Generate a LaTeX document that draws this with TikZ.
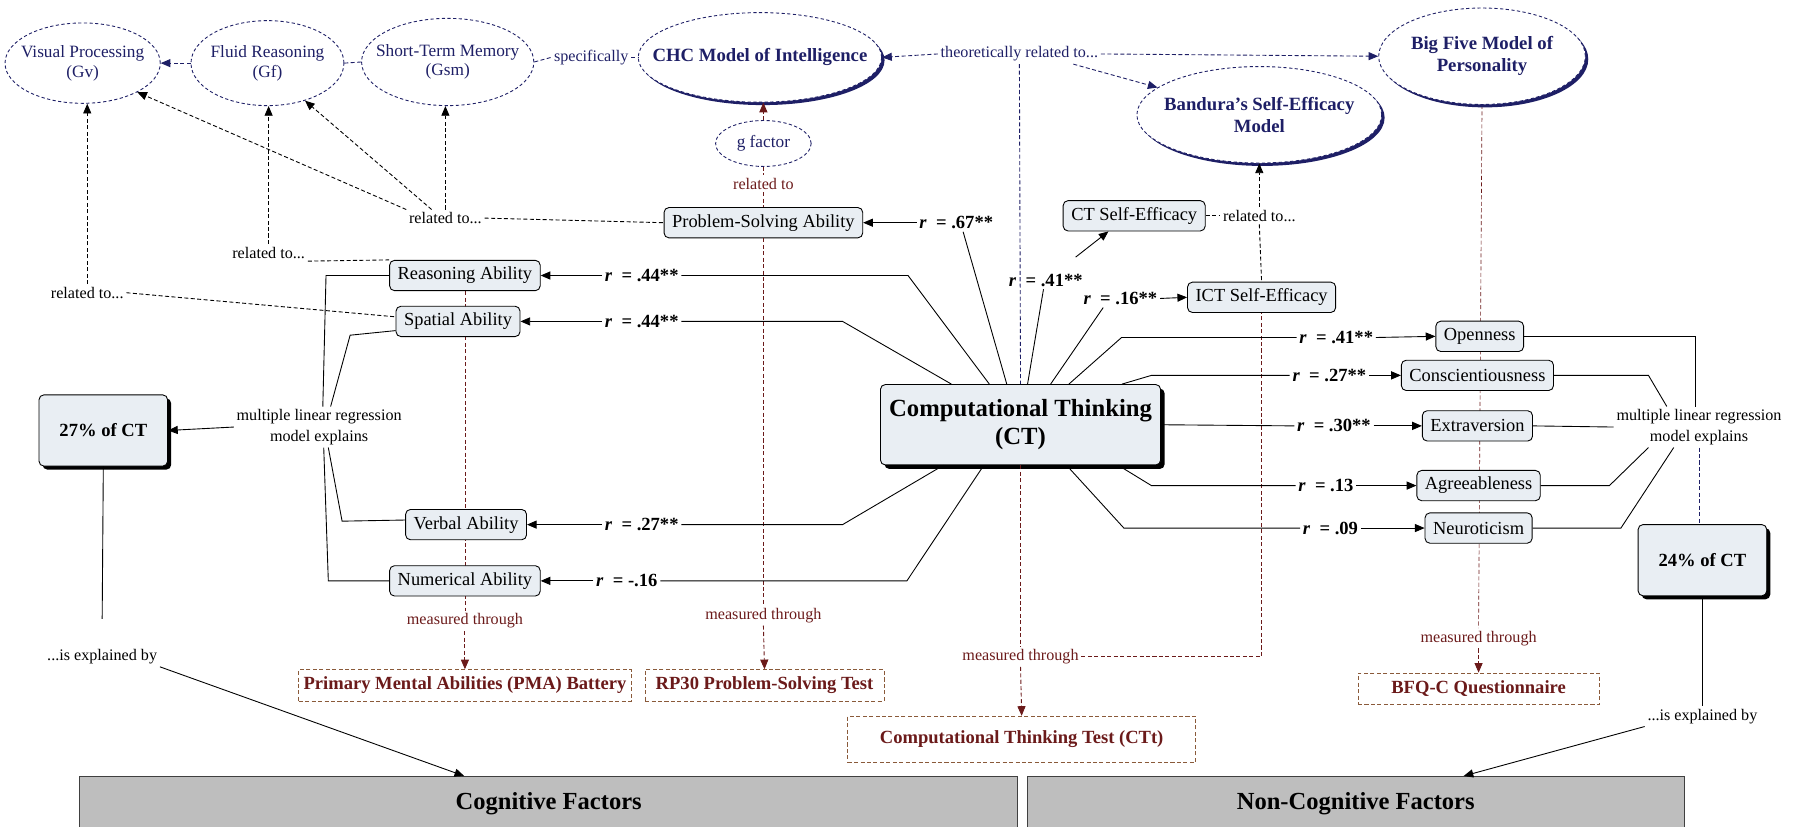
\documentclass[tikz,border=0pt]{standalone}
\usepackage{fontspec}
\setmainfont{Liberation Serif}
\usetikzlibrary{arrows.meta,calc,shapes.geometric,shadows,backgrounds}
\definecolor{navy}{HTML}{1E1F66}
\definecolor{maroon}{HTML}{6B1A1A}
\definecolor{testrim}{HTML}{8A5A3A}
\definecolor{boxfill}{HTML}{E9EEF3}
\definecolor{barfill}{HTML}{BEBEBE}

\begin{document}
\begin{tikzpicture}[x=0.025cm,y=-0.025cm,line width=0.55pt,
			construct/.style={ellipse,draw=navy,dash pattern=on 2pt off 1.5pt,fill=white,inner sep=0pt},
			ctext/.style={align=center,inner sep=0pt,text=navy,font=\fontsize{10.7}{12.1}\selectfont},
			theory/.style={ellipse,draw=navy,dash pattern=on 2pt off 1.5pt,fill=white,inner sep=0pt,drop shadow={shadow xshift=1.8pt,shadow yshift=-1.8pt,fill=navy,opacity=1}},
			ttext/.style={align=center,inner sep=0pt,text=navy,font=\bfseries\fontsize{11.6}{13.4}\selectfont},
			ability/.style={draw,rounded corners=3pt,fill=boxfill,inner xsep=5pt,inner ysep=0pt,minimum height=0.66cm,font=\fontsize{11.4}{13}\selectfont},
			core/.style={ability,align=center,minimum width=6.1cm,minimum height=1.75cm,font=\bfseries\fontsize{15.3}{17.5}\selectfont,drop shadow={shadow xshift=2.5pt,shadow yshift=-2.5pt,fill=black,opacity=1}},
			share/.style={ability,minimum width=2.8cm,minimum height=1.55cm,font=\bfseries\fontsize{11.5}{13}\selectfont,drop shadow={shadow xshift=2.2pt,shadow yshift=-2.2pt,fill=black,opacity=1}},
			instrument/.style={draw=testrim,dash pattern=on 2.5pt off 1.5pt,fill=white,text=maroon,inner xsep=3pt,inner ysep=0pt,minimum height=0.68cm,font=\bfseries\fontsize{11.5}{13}\selectfont},
			note/.style={inner sep=1.5pt,align=center,font=\fontsize{10}{12.8}\selectfont},
			mnote/.style={note,text=maroon},
			coef/.style={inner sep=1.5pt,font=\bfseries\fontsize{11.5}{13}\selectfont},
			factor/.style={draw=black!75,fill=barfill,anchor=north,minimum height=1.2cm,font=\bfseries\fontsize{15.2}{17}\selectfont},
			ndash/.style={draw=navy,dash pattern=on 2.5pt off 1.5pt},
			mdash/.style={draw=maroon,dash pattern=on 2.5pt off 1.5pt},
			kdash/.style={draw=black,dash pattern=on 2.5pt off 1.5pt},
			arr/.style={-{Triangle[length=6pt,width=5pt]}}
		]
		\useasboundingbox (0,0) rectangle (1568,720);
		% theories and constructs
		\node[construct,minimum width=3.38cm,minimum height=1.75cm,label={[ctext]center:Visual Processing\\(Gv)}] (vis) at (72,55) {};
		\node[construct,minimum width=3.33cm,minimum height=1.85cm,label={[ctext]center:Fluid Reasoning\\(Gf)}] (fluid) at (233,55) {};
		\node[construct,minimum width=3.75cm,minimum height=1.9cm,label={[ctext]center:Short-Term Memory\\(Gsm)}] (stm) at (390,54) {};
		\node[note,text=navy] (spec) at (515,50) {specifically};
		\node[theory,minimum width=5.3cm,minimum height=1.95cm,label={[ttext]center:CHC Model of Intelligence}] (chc) at (662,50) {};
		\node[note,text=navy] (theo) at (888,47) {theoretically related to...};
		\node[theory,minimum width=4.5cm,minimum height=2.1cm,label={[ttext]center:Big Five Model of\\Personality}] (big5) at (1291,49) {};
		\node[theory,minimum width=5.33cm,minimum height=2.1cm,label={[ttext]center:Bandura's Self-Efficacy\\Model}] (bandura) at (1097,100) {};
		\node[construct,minimum width=2.08cm,minimum height=1.0cm,label={[ctext]center:g factor}] (gfac) at (665,125) {};
		\node[mnote] (relg) at (665,160) {related to};
		% cognitive side
		\node[ability] (psa)     at (665,194) {Problem-Solving Ability};
		\node[ability] (reason)  at (405,240) {Reasoning Ability};
		\node[ability] (spatial) at (399,280) {Spatial Ability};
		\node[ability] (verbal)  at (406,457) {Verbal Ability};
		\node[ability] (numer)   at (405,506) {Numerical Ability};
		\node[coef] (rpsa)     at (833,194) {\textit{r}\enspace= .67**};
		\node[coef] (rreason)  at (559,240) {\textit{r}\enspace= .44**};
		\node[coef] (rspatial) at (559,280) {\textit{r}\enspace= .44**};
		\node[coef] (rverbal)  at (559,457) {\textit{r}\enspace= .27**};
		\node[coef] (rnumer)   at (546,506) {\textit{r}\enspace= -.16};
		\node[note] (rela) at (76,255)  {related to...};
		\node[note] (relb) at (234,220) {related to...};
		\node[note] (relc) at (388,190) {related to...};
		\node[note] (regl) at (278,372) {multiple linear regression\\model explains};
		\node[share] (pctl) at (90,375) {27\% of CT};
		\node[note] (expl) at (89,572) {...is explained by};
		\node[mnote] (meas1) at (405,541) {measured through};
		\node[mnote] (meas2) at (665,536) {measured through};
		\node[instrument,minimum width=7.2cm] (pma)  at (405,597) {Primary Mental Abilities (PMA) Battery};
		\node[instrument,minimum width=5.2cm] (rp30) at (666,597) {RP30 Problem-Solving Test};
		% computational thinking
		\node[core] (ct) at (889,370) {Computational Thinking\\(CT)};
		\node[ability] (ctse) at (988,188) {CT Self-Efficacy};
		\node[note] (reld) at (1097,188) {related to...};
		\node[ability] (ict) at (1099,259) {ICT Self-Efficacy};
		\node[coef] (r41) at (911,244) {\textit{r}\enspace= .41**};
		\node[coef] (r16) at (976,260) {\textit{r}\enspace= .16**};
		\coordinate (sefrom) at (937,224);
		\node[mnote] (meas3) at (889,572) {measured through};
		\node[instrument,minimum width=7.58cm,minimum height=1.0cm] (ctt) at (890,644) {Computational Thinking Test (CTt)};
		% non-cognitive side
		\node[ability] (open)  at (1289,293) {Openness};
		\node[ability] (consc) at (1287,327) {Conscientiousness};
		\node[ability] (extra) at (1287,371) {Extraversion};
		\node[ability] (agree) at (1288,423) {Agreeableness};
		\node[ability] (neuro) at (1288,460) {Neuroticism};
		\node[coef] (ropen)  at (1164,294) {\textit{r}\enspace= .41**};
		\node[coef] (rconsc) at (1158,327) {\textit{r}\enspace= .27**};
		\node[coef] (rextra) at (1162,371) {\textit{r}\enspace= .30**};
		\node[coef] (ragree) at (1155,423) {\textit{r}\enspace= .13};
		\node[coef] (rneuro) at (1159,460) {\textit{r}\enspace= .09};
		\node[note] (regr) at (1480,372) {multiple linear regression\\model explains};
		\node[share] (pctr) at (1483,488) {24\% of CT};
		\node[note] (expr) at (1483,624) {...is explained by};
		\node[mnote] (meas4) at (1288,556) {measured through};
		\node[instrument,minimum width=5.25cm] (bfq) at (1288,600) {BFQ-C Questionnaire};
		\node[factor,minimum width=20.43cm] (cog)    at (478,676)  {Cognitive Factors};
		\node[factor,minimum width=14.3cm]  (noncog) at (1181,676) {Non-Cognitive Factors};

		\begin{scope}[on background layer]
			\draw[mdash] (reason.south) -- (meas1.north);
			\draw[mdash] (big5.south) -- (meas4.north);
		\end{scope}
		% top dashed links
		\draw[ndash,arr] (fluid.west) -- (vis.east);
		\draw[ndash] (stm.west) -- (fluid.east);
		\draw[ndash] (stm.east) -- (spec.west);
		\draw[ndash] (spec.east) -- (chc.west);
		\draw[ndash,arr] (theo.west) -- (chc.east);
		\draw[ndash,arr] (theo.east) -- (big5.west);
		\draw[ndash,arr] ([xshift=-0.6cm]theo.south east) -- (bandura.165);
		\draw[ndash] (theo.south) -- (ct.north);
		\draw[mdash,arr] (gfac.north) -- (chc.south -| gfac.north);
		\draw[mdash] (gfac.south) -- (relg.north);
		\draw[mdash] (relg.south) -- (psa.north);
		\draw[mdash] (psa.south) -- (meas2.north);
		\draw[mdash,arr] (meas2.south) -- (rp30.north);
		\draw[kdash,arr] (rela.north) -- (rela.north |- vis.south);
		\draw[kdash] (rela.east) -- ([yshift=0.1cm]spatial.west);
		\draw[kdash,arr] (relb.north) -- (relb.north |- fluid.south);
		\draw[kdash] (relb.south east) -- (reason.north west);
		\draw[kdash,arr] (relc.north west) -- (vis.-28);
		\draw[kdash,arr] ([xshift=-0.3cm]relc.north) -- (fluid.-45);
		\draw[kdash,arr] (relc.north) -- (relc.north |- stm.south);
		\draw[kdash] (relc.east) -- (psa.west);
		\draw[mdash,arr] (meas1.south) -- (pma.north);
		% correlations, cognitive
		\draw ($(ct.north west)!.451!(ct.north east)$) -- ([xshift=0.15cm]rpsa.south);
		\draw[arr] (rpsa.west) -- (psa.east);
		\draw ($(ct.north west)!.389!(ct.north east)$) -- (791,240) -- (rreason.east);
		\draw[arr] (rreason.west) -- (reason.east);
		\draw ($(ct.north west)!.254!(ct.north east)$) -- (734,280) -- (rspatial.east);
		\draw[arr] (rspatial.west) -- (spatial.east);
		\draw ($(ct.south west)!.225!(ct.south east)$) -- (734,457) -- (rverbal.east);
		\draw[arr] (rverbal.west) -- (verbal.east);
		\draw ($(ct.south west)!.369!(ct.south east)$) -- (790,506) -- (rnumer.east);
		\draw[arr] (rnumer.west) -- (numer.east);
		\draw (reason.west) -- (284,240) -- ([xshift=0.08cm]regl.north);
		\draw ([yshift=-0.2cm]spatial.west) -- (305,292) -- ([xshift=0.25cm]regl.north);
		\draw ([yshift=0.1cm]verbal.west) -- (298,454) -- ([xshift=0.2cm]regl.south);
		\draw (numer.west) -- (286,506) -- ([xshift=0.1cm]regl.south);
		\draw[arr] (regl.west) -- (pctl.east);
		\draw (pctl.south) -- ([yshift=0.6cm]expl.north);
		\draw[arr] (expl.south east) -- ($(cog.north west)!.41!(cog.north east)$);
		% self-efficacy
		\draw ($(ct.north west)!.525!(ct.north east)$) -- ([xshift=-0.05cm]r41.south);
		\draw[arr] (sefrom) -- ($(ctse.south west)!.32!(ctse.south east)$);
		\draw ($(ct.north west)!.607!(ct.north east)$) -- ([xshift=-0.375cm]r16.south);
		\draw[arr] (r16.east) -- (ict.west);
		\draw[kdash] (ctse.east) -- (reld.west);
		\draw[kdash,arr] (reld.north) -- (reld.north |- bandura.south);
		\draw[kdash] (reld.south) -- (ict.north);
		\draw[mdash] (ct.south) -- (meas3.north);
		\draw[mdash,arr] (meas3.south) -- (ctt.north);
		\draw[mdash] (meas3.east) -| (ict.south);
		% correlations, non-cognitive
		\draw ($(ct.north west)!.672!(ct.north east)$) -- (977,294) -- (ropen.west);
		\draw[arr] (ropen.east) -- (open.west);
		\draw ($(ct.north west)!.861!(ct.north east)$) -- (1003,327) -- (rconsc.west);
		\draw[arr] (rconsc.east) -- (consc.west);
		\draw (ct.east) -- (rextra.west);
		\draw[arr] (rextra.east) -- (extra.west);
		\draw ($(ct.south west)!.848!(ct.south east)$) -- (1003,423) -- (ragree.west);
		\draw[arr] (ragree.east) -- (agree.west);
		\draw ($(ct.south west)!.664!(ct.south east)$) -- (979,460) -- (rneuro.west);
		\draw[arr] (rneuro.east) -- (neuro.west);
		\draw (open.east) -| ([xshift=-0.075cm]regr.north);
		\draw (consc.east) -- (1436,327) -- ([xshift=-0.7cm]regr.north);
		\draw (extra.east) -- (regr.west);
		\draw (agree.east) -- (1402,423) -- ([xshift=-1.1cm]regr.south);
		\draw (neuro.east) -- (1412,460) -- ([xshift=-0.55cm]regr.south);
		\draw[ndash] (regr.south) -- (regr.south |- pctr.north);
		\draw (pctr.south) -- (expr.north);
		\draw[arr] (expr.south west) -- ($(noncog.north west)!.664!(noncog.north east)$);
		\draw[mdash,arr] (meas4.south) -- (bfq.north);
	\end{tikzpicture}
\end{document}
